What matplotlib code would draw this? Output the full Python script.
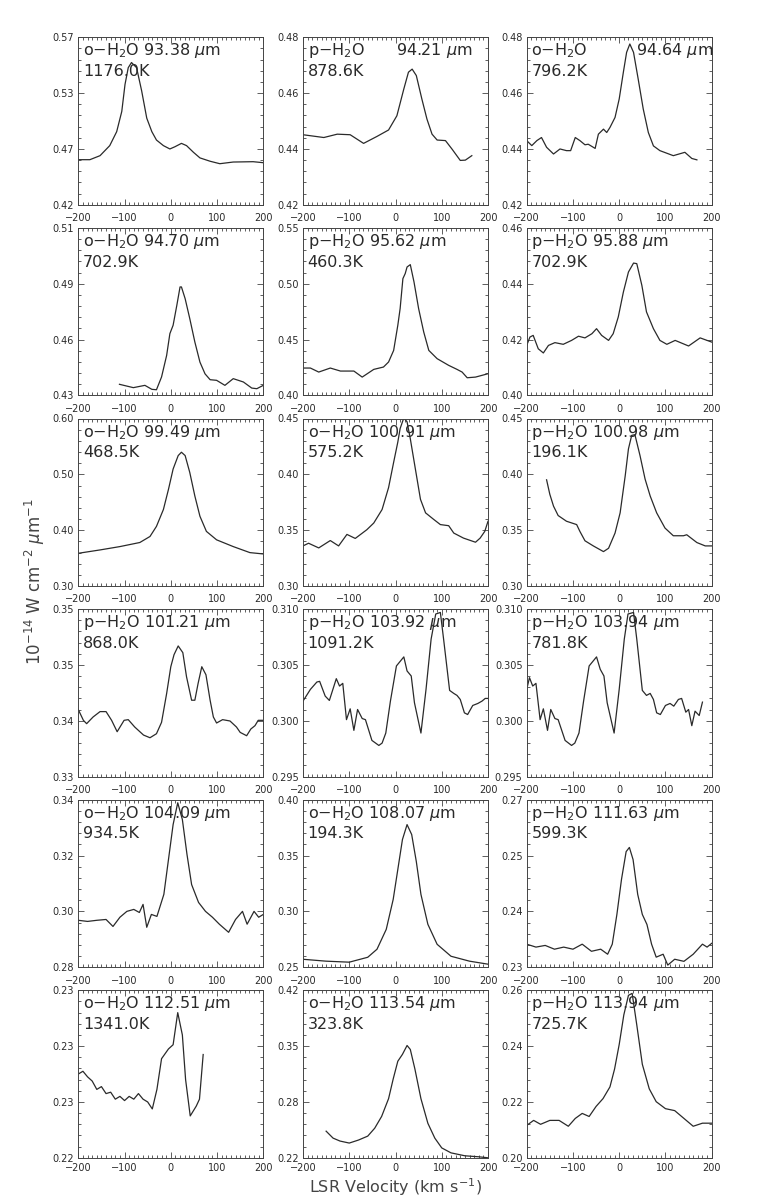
import matplotlib
matplotlib.use('Agg')
import matplotlib.pyplot as plt
from matplotlib.ticker import MultipleLocator, AutoMinorLocator

plt.rcParams['font.family'] = 'DejaVu Sans'
plt.rcParams['mathtext.fontset'] = 'dejavusans'

# ---- spectra: LSR velocity (km/s) and flux (1e-14 W cm-2 um-1) ----
v_9338 = [-200, -175, -153, -132, -117, -106, -99, -92, -85, -74, -63, -52, -41, -31, -16, -2, 9, 23, 34, 49, 63, 85, 106, 135, 178, 200]
f_9338 = [0.4604, 0.4604, 0.464, 0.473, 0.4855, 0.5036, 0.5278, 0.5428, 0.5474, 0.5428, 0.522, 0.4976, 0.4855, 0.478, 0.473, 0.470, 0.472, 0.475, 0.473, 0.467, 0.462, 0.459, 0.4568, 0.4583, 0.4586, 0.4577]

v_9421 = [-200, -155, -126, -98, -69, -40, -15, 3, 18, 28, 36, 45, 57, 68, 79, 90, 108, 122, 140, 151, 165]
f_9421 = [0.4451, 0.4441, 0.4453, 0.4451, 0.442, 0.4445, 0.4468, 0.4519, 0.4615, 0.4675, 0.4686, 0.4663, 0.4579, 0.4507, 0.4453, 0.4432, 0.443, 0.440, 0.4359, 0.436, 0.4376]

v_9464 = [-200, -189, -178, -168, -157, -142, -128, -114, -105, -95, -85, -74, -67, -52, -45, -34, -27, -20, -9, 0, 9, 16, 23, 31, 41, 52, 63, 74, 88, 117, 142, 157, 168]
f_9464 = [0.4430, 0.4412, 0.443, 0.4441, 0.4406, 0.4382, 0.440, 0.4394, 0.4394, 0.4441, 0.443, 0.4415, 0.4417, 0.4402, 0.4453, 0.4471, 0.4459, 0.4477, 0.4513, 0.4579, 0.4675, 0.4746, 0.4776, 0.4746, 0.4651, 0.4543, 0.4459, 0.4411, 0.4394, 0.4376, 0.4388, 0.4366, 0.4361]

v_9470 = [-111, -81, -56, -41, -31, -20, -9, -2, 5, 13, 20, 23, 31, 41, 52, 63, 74, 85, 99, 117, 135, 157, 175, 186, 200]
f_9470 = [0.4353, 0.4337, 0.4348, 0.4329, 0.4327, 0.4388, 0.4491, 0.4595, 0.4635, 0.473, 0.4818, 0.4818, 0.4762, 0.4667, 0.4555, 0.4459, 0.4403, 0.4375, 0.4372, 0.4348, 0.438, 0.4364, 0.4335, 0.4332, 0.4348]

v_9562 = [-200, -184, -166, -141, -119, -90, -72, -47, -26, -15, -4, 5, 10, 16, 21, 25, 32, 40, 50, 61, 72, 90, 115, 133, 144, 155, 173, 200]
f_9562 = [0.4245, 0.4245, 0.4209, 0.4245, 0.4218, 0.4218, 0.4164, 0.4233, 0.4254, 0.4299, 0.4403, 0.4628, 0.4777, 0.5046, 0.5091, 0.515, 0.5171, 0.5016, 0.4777, 0.4568, 0.4403, 0.4329, 0.4269, 0.4233, 0.4209, 0.4158, 0.4164, 0.4194]

v_9588 = [-200, -193, -186, -175, -164, -153, -139, -121, -103, -88, -74, -59, -49, -38, -23, -13, -2, 9, 20, 31, 38, 49, 59, 74, 88, 103, 121, 150, 175, 200]
f_9588 = [0.4179, 0.4209, 0.4215, 0.4167, 0.4152, 0.4179, 0.4189, 0.4183, 0.4197, 0.4212, 0.4206, 0.4221, 0.4239, 0.4215, 0.4197, 0.4221, 0.4281, 0.437, 0.4442, 0.4474, 0.4472, 0.4394, 0.4299, 0.4239, 0.4197, 0.4183, 0.4197, 0.4177, 0.4206, 0.4191]

v_9949 = [-200, -153, -110, -67, -45, -31, -16, -5, 5, 16, 23, 31, 41, 52, 63, 77, 99, 135, 171, 200]
f_9949 = [0.3586, 0.3646, 0.3706, 0.3779, 0.3887, 0.4068, 0.437, 0.4732, 0.5095, 0.5336, 0.5396, 0.5336, 0.5034, 0.4612, 0.4249, 0.3978, 0.3827, 0.3706, 0.3598, 0.3574]

v_10091 = [-200, -188, -166, -141, -123, -105, -87, -62, -47, -29, -15, -4, 5, 10, 18, 25, 32, 43, 54, 65, 83, 97, 115, 126, 147, 173, 183, 193, 200]
f_10091 = [0.3359, 0.3383, 0.3341, 0.3407, 0.3359, 0.3462, 0.3426, 0.3504, 0.3564, 0.3685, 0.3881, 0.4108, 0.4289, 0.441, 0.4506, 0.447, 0.4319, 0.4047, 0.3776, 0.3655, 0.3595, 0.355, 0.354, 0.3474, 0.3429, 0.3392, 0.3429, 0.3489, 0.3579]

v_10098 = [-157, -150, -142, -132, -114, -92, -85, -74, -56, -34, -23, -9, 2, 13, 20, 27, 34, 45, 56, 67, 81, 99, 117, 139, 146, 168, 186, 200]
f_10098 = [0.3951, 0.3821, 0.3715, 0.3631, 0.358, 0.355, 0.3489, 0.3405, 0.3359, 0.3308, 0.3338, 0.3474, 0.3655, 0.3987, 0.4228, 0.4349, 0.4355, 0.4168, 0.3957, 0.3806, 0.3655, 0.3519, 0.345, 0.345, 0.3459, 0.3389, 0.3359, 0.3359]

v_10121 = [-200, -189, -182, -168, -153, -140, -128, -116, -101, -92, -78, -59, -45, -31, -20, -9, 0, 7, 16, 26, 34, 45, 52, 59, 67, 76, 85, 92, 99, 112, 128, 142, 150, 164, 173, 182, 189, 200]
f_10121 = [0.3400, 0.3384, 0.3379, 0.3389, 0.3397, 0.3397, 0.3384, 0.3367, 0.3384, 0.3385, 0.3374, 0.3362, 0.3358, 0.3364, 0.3381, 0.3424, 0.3464, 0.3482, 0.3495, 0.3485, 0.3449, 0.3414, 0.3414, 0.3439, 0.3464, 0.3452, 0.3414, 0.3389, 0.3380, 0.3385, 0.3383, 0.3374, 0.3366, 0.3361, 0.3371, 0.3376, 0.3384, 0.3384]

v_10392 = [-200, -184, -170, -164, -152, -143, -128, -121, -114, -106, -98, -90, -82, -72, -65, -51, -36, -29, -21, -11, 2, 18, 25, 34, 41, 55, 66, 77, 87, 97, 104, 117, 126, 133, 140, 149, 156, 167, 178, 187, 194, 200]
f_10392 = [0.30176, 0.30281, 0.30347, 0.30353, 0.30221, 0.30182, 0.30377, 0.30311, 0.30335, 0.3001, 0.30107, 0.29914, 0.30101, 0.3002, 0.3001, 0.29824, 0.29779, 0.298, 0.2989, 0.30176, 0.30491, 0.30572, 0.30446, 0.30401, 0.30161, 0.2989, 0.30281, 0.30731, 0.30956, 0.3097, 0.30731, 0.30272, 0.30245, 0.30227, 0.30191, 0.30071, 0.30056, 0.30137, 0.30155, 0.30176, 0.302, 0.302]

v_10394 = [-200, -194, -187, -180, -171, -164, -155, -148, -139, -132, -117, -103, -96, -87, -77, -65, -49, -41, -33, -26, -11, 0, 11, 19, 31, 38, 50, 59, 67, 74, 81, 89, 100, 110, 118, 128, 135, 144, 150, 157, 164, 173, 180]
f_10394 = [0.30281, 0.30386, 0.30311, 0.30335, 0.3001, 0.30107, 0.29914, 0.30101, 0.3002, 0.3001, 0.29824, 0.29779, 0.298, 0.2989, 0.30176, 0.30491, 0.30572, 0.30461, 0.30401, 0.30161, 0.2989, 0.30281, 0.30731, 0.30956, 0.3097, 0.30731, 0.30272, 0.30227, 0.30245, 0.30191, 0.30071, 0.30056, 0.30137, 0.30155, 0.30131, 0.30191, 0.302, 0.30077, 0.30101, 0.29956, 0.30086, 0.30047, 0.30167]

v_10409 = [-200, -180, -160, -140, -125, -110, -95, -80, -68, -60, -52, -42, -30, -15, -5, 5, 15, 25, 35, 45, 60, 75, 90, 105, 125, 140, 155, 165, 180, 190, 200]
f_10409 = [0.2968, 0.2964, 0.2968, 0.2971, 0.2946, 0.2979, 0.300, 0.3007, 0.2996, 0.3025, 0.2943, 0.2989, 0.2982, 0.3061, 0.3186, 0.3311, 0.3389, 0.3329, 0.3204, 0.3096, 0.3032, 0.300, 0.2979, 0.2954, 0.2925, 0.2971, 0.300, 0.2954, 0.300, 0.2979, 0.2989]

v_10807 = [-200, -150, -100, -60, -40, -20, -5, 5, 15, 25, 35, 45, 55, 70, 90, 120, 160, 200]
f_10807 = [0.2571, 0.2554, 0.2545, 0.2589, 0.2661, 0.2839, 0.3107, 0.3375, 0.3643, 0.3777, 0.3688, 0.3446, 0.3152, 0.2884, 0.2705, 0.2598, 0.2554, 0.2527]

v_11163 = [-200, -180, -160, -140, -120, -100, -80, -60, -40, -25, -15, -5, 5, 15, 22, 30, 40, 50, 60, 70, 80, 95, 105, 120, 140, 160, 180, 190, 200]
f_11163 = [0.2355, 0.2348, 0.2352, 0.2343, 0.2348, 0.2343, 0.2355, 0.2338, 0.2343, 0.2331, 0.2355, 0.2426, 0.251, 0.2576, 0.2586, 0.2557, 0.2474, 0.2426, 0.2402, 0.2355, 0.2324, 0.2331, 0.2305, 0.2319, 0.2314, 0.2331, 0.2355, 0.2348, 0.2357]

v_11251 = [-200, -190, -180, -170, -160, -150, -140, -130, -120, -110, -100, -90, -80, -70, -60, -50, -40, -30, -20, -5, 5, 15, 25, 32, 42, 55, 62, 70]
f_11251 = [0.2280, 0.2282, 0.2278, 0.2275, 0.2269, 0.2271, 0.2266, 0.2267, 0.2262, 0.2264, 0.2261, 0.2264, 0.2262, 0.2266, 0.2262, 0.2260, 0.2255, 0.2269, 0.2291, 0.2298, 0.2301, 0.2324, 0.2308, 0.2276, 0.2250, 0.2257, 0.2262, 0.2294]

v_11354 = [-150, -135, -120, -100, -80, -60, -45, -30, -15, -5, 5, 15, 25, 32, 42, 55, 70, 85, 100, 120, 150, 180, 200]
f_11354 = [0.2518, 0.2435, 0.240, 0.2376, 0.2412, 0.2459, 0.2553, 0.2694, 0.2906, 0.3141, 0.3353, 0.3435, 0.3541, 0.3494, 0.3259, 0.2906, 0.2612, 0.2435, 0.2318, 0.2259, 0.2224, 0.2212, 0.2200]

v_11394 = [-200, -185, -170, -150, -130, -110, -95, -80, -65, -50, -35, -20, -10, 0, 10, 20, 28, 38, 50, 65, 80, 100, 120, 140, 160, 180, 200]
f_11394 = [0.2116, 0.2134, 0.2120, 0.2134, 0.2134, 0.2113, 0.2141, 0.2159, 0.2148, 0.2184, 0.2212, 0.2254, 0.2318, 0.2406, 0.2512, 0.2582, 0.2589, 0.2476, 0.2335, 0.2247, 0.2201, 0.2176, 0.2169, 0.2141, 0.2113, 0.2124, 0.2124]

velocities = [v_9338, v_9421, v_9464, v_9470, v_9562, v_9588, v_9949, v_10091, v_10098,
              v_10121, v_10392, v_10394, v_10409, v_10807, v_11163, v_11251, v_11354, v_11394]
fluxes = [f_9338, f_9421, f_9464, f_9470, f_9562, f_9588, f_9949, f_10091, f_10098,
          f_10121, f_10392, f_10394, f_10409, f_10807, f_11163, f_11251, f_11354, f_11394]

species = ['o', 'p', 'o', 'o', 'p', 'p', 'o', 'o', 'p', 'p', 'p', 'p', 'o', 'o', 'p', 'o', 'o', 'p']
waves = ['93.38', '94.21', '94.64', '94.70', '95.62', '95.88', '99.49', '100.91', '100.98',
         '101.21', '103.92', '103.94', '104.09', '108.07', '111.63', '112.51', '113.54', '113.94']
temps = ['1176.0K', '878.6K', '796.2K', '702.9K', '460.3K', '702.9K', '468.5K', '575.2K', '196.1K',
         '868.0K', '1091.2K', '781.8K', '934.5K', '194.3K', '599.3K', '1341.0K', '323.8K', '725.7K']

ylims = [(0.42, 0.57), (0.42, 0.48), (0.42, 0.48), (0.43, 0.51), (0.40, 0.55), (0.40, 0.46),
         (0.30, 0.60), (0.30, 0.45), (0.30, 0.45), (0.330, 0.355), (0.295, 0.310), (0.295, 0.310),
         (0.28, 0.34), (0.25, 0.40), (0.23, 0.27), (0.222, 0.234), (0.22, 0.42), (0.20, 0.26)]
ytick_labels = [['0.42', '0.47', '0.53', '0.57'], ['0.42', '0.44', '0.46', '0.48'], ['0.42', '0.44', '0.46', '0.48'],
                ['0.43', '0.46', '0.49', '0.51'], ['0.40', '0.45', '0.50', '0.55'], ['0.40', '0.42', '0.44', '0.46'],
                ['0.30', '0.40', '0.50', '0.60'], ['0.30', '0.35', '0.40', '0.45'], ['0.30', '0.35', '0.40', '0.45'],
                ['0.33', '0.34', '0.35', '0.35'], ['0.295', '0.300', '0.305', '0.310'], ['0.295', '0.300', '0.305', '0.310'],
                ['0.28', '0.30', '0.32', '0.34'], ['0.25', '0.30', '0.35', '0.40'], ['0.23', '0.24', '0.25', '0.27'],
                ['0.22', '0.23', '0.23', '0.23'], ['0.22', '0.28', '0.35', '0.42'], ['0.20', '0.22', '0.24', '0.26']]

# wavelength label placed apart from the species name in a couple of panels
wave_x = {1: 0.50, 2: 0.59}

W, H = 763, 1199
fig = plt.figure(figsize=(W / 100, H / 100), dpi=100)

col_left = [78.3, 303.0, 526.7]
ax_w = 185.0
row_top0, row_step, ax_h = 37.3, 190.6, 167.5
ink = '#2a2a2a'

for i in range(18):
    r, c = divmod(i, 3)
    top = row_top0 + r * row_step
    ax = fig.add_axes([col_left[c] / W, 1 - (top + ax_h) / H, ax_w / W, ax_h / H])
    ax.plot(velocities[i], fluxes[i], color=ink, lw=0.9)
    lo, hi = ylims[i]
    ax.set_xlim(-200, 200)
    ax.set_ylim(lo, hi)
    ax.set_xticks([-200, -100, 0, 100, 200])
    ax.xaxis.set_minor_locator(MultipleLocator(10))
    step = (hi - lo) / 3
    ax.set_yticks([lo, lo + step, lo + 2 * step, hi])
    ax.set_yticklabels(ytick_labels[i])
    ax.yaxis.set_minor_locator(AutoMinorLocator(5))
    ax.tick_params(which='both', direction='in', top=True, right=True, colors='#444444',
                   labelsize=7, labelcolor=ink, width=0.6)
    ax.tick_params(axis='x', which='major', pad=6 if r < 5 else 4)
    ax.tick_params(axis='y', which='major', pad=3)
    ax.tick_params(which='major', length=4)
    ax.tick_params(which='minor', length=2)
    for s in ax.spines.values():
        s.set_color('#444444')
        s.set_linewidth(0.7)

    name = '%s$-$H$_2$O' % species[i]
    wl = '%s $\\mu$m' % waves[i]
    if i in wave_x:
        ax.text(0.025, 0.975, name, transform=ax.transAxes, va='top', ha='left', fontsize=11.5, color=ink)
        ax.text(wave_x[i], 0.975, wl, transform=ax.transAxes, va='top', ha='left', fontsize=11.5, color=ink)
    else:
        ax.text(0.025, 0.975, name + ' ' + wl, transform=ax.transAxes, va='top', ha='left', fontsize=11.5, color=ink)
    ax.text(0.025, 0.84, temps[i], transform=ax.transAxes, va='top', ha='left', fontsize=11.5, color=ink)

fig.text(35 / W, 1 - 582 / H, '10$^{-14}$ W cm$^{-2}$ $\\mu$m$^{-1}$', rotation=90,
         ha='center', va='center', fontsize=12, color='#444444')
fig.text(395 / W, 1 / H, 'LSR Velocity (km s$^{-1}$)', ha='center', va='bottom',
         fontsize=11.5, color='#444444')

fig.savefig('out.png', dpi=100)
